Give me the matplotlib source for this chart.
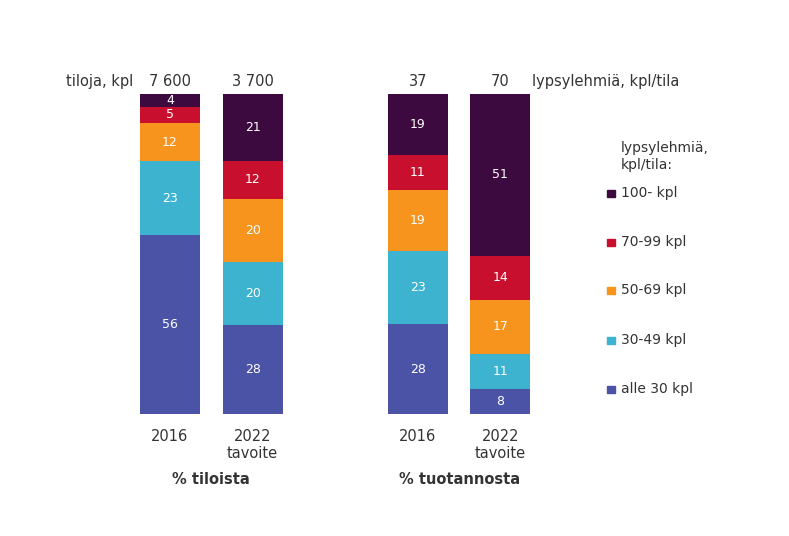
import matplotlib.pyplot as plt
import numpy as np

# ---- Data ----------------------------------------------------------------
categories = ["alle 30 kpl", "30-49 kpl", "50-69 kpl", "70-99 kpl", "100- kpl"]
bar_years = ["2016", "2022\ntavoite", "2016", "2022\ntavoite"]
# share (%) per size class, bottom -> top
farms_2016 = [56, 23, 12, 5, 4]
farms_2022 = [28, 20, 20, 12, 21]
prod_2016 = [28, 23, 19, 11, 19]
prod_2022 = [8, 11, 17, 14, 51]
top_labels = ["7 600", "3 700", "37", "70"]
group_titles = ["% tiloista", "% tuotannosta"]

series = [farms_2016, farms_2022, prod_2016, prod_2022]
positions = [0, 1, 3, 4]

COLORS = ["#4a53a5", "#3db3cf", "#f7941d", "#c8102e", "#3d0a40"]
TEXT = "#333333"

# ---- Figure setup --------------------------------------------------------
fig = plt.figure(figsize=(7.89, 5.36), dpi=100)
ax = fig.add_axes([0, 0, 1, 1])
px_x = 82.6          # pixels per x unit
px_y = 3.2           # pixels per y unit
x0, y0 = 170, 414    # pixel position of x=0, y=0
ax.set_xlim(-x0 / px_x, (789 - x0) / px_x)
ax.set_ylim(-(536 - y0) / px_y, y0 / px_y)
ax.axis("off")

width = 0.727
for pos, vals in zip(positions, series):
    vals = np.array(vals, dtype=float)
    heights = vals / vals.sum() * 100
    bottom = 0
    for v, h, c in zip(vals, heights, COLORS):
        ax.bar(pos, h, bottom=bottom, width=width, color=c, edgecolor="none")
        ax.text(pos, bottom + h / 2, f"{int(v)}", ha="center", va="center",
                color="white", fontsize=9)
        bottom += h

# numbers above bars
for pos, lab in zip(positions, top_labels):
    ax.text(pos, 104, lab, ha="center", va="center", color=TEXT, fontsize=10.5)
ax.text(-0.45, 104, "tiloja, kpl", ha="right", va="center", color=TEXT, fontsize=10.5)
ax.text(4.38, 104, "lypsylehmiä, kpl/tila", ha="left", va="center",
        color=TEXT, fontsize=10.5)

# x labels
for pos, lab in zip(positions, bar_years):
    ax.text(pos, -4.6, lab, ha="center", va="top", color=TEXT, fontsize=10.5,
            linespacing=1.2)
ax.text(0.5, -20.6, group_titles[0], ha="center", va="center", color=TEXT,
        fontsize=10.5, fontweight="bold")
ax.text(3.5, -20.6, group_titles[1], ha="center", va="center", color=TEXT,
        fontsize=10.5, fontweight="bold")

# legend (manual)
lx = (621 - x0) / px_x
ax.text(lx, (y0 - 156.5) / px_y, "lypsylehmiä,\nkpl/tila:", ha="left",
        va="center", color=TEXT, fontsize=10, linespacing=1.35)
leg_y = [389, 340, 290, 242, 193]
for cat, c, yy in zip(categories, COLORS, leg_y):
    yd = (y0 - yy) / px_y
    ax.add_patch(plt.Rectangle(((607 - x0) / px_x, yd - 3.5 / px_y),
                               7.5 / px_x, 7 / px_y, color=c))
    ax.text(lx, yd, cat, ha="left", va="center", color=TEXT, fontsize=10)

plt.savefig("out.png", dpi=100)
